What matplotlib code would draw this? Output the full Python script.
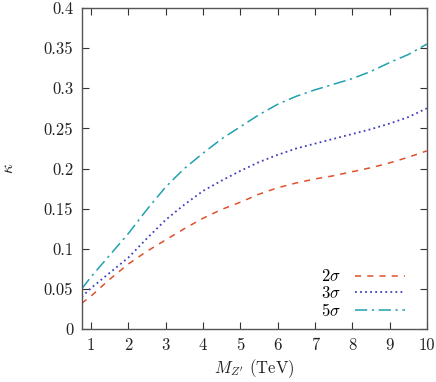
import matplotlib
matplotlib.use("Agg")
import matplotlib.pyplot as plt
import numpy as np

plt.rcParams['font.family'] = 'serif'
plt.rcParams['font.serif'] = ['cmr10', 'DejaVu Serif']
plt.rcParams['mathtext.fontset'] = 'cm'
plt.rcParams['axes.formatter.use_mathtext'] = True

mass = [0.75, 1, 1.5, 2, 2.5, 3, 3.5, 4, 4.5, 5, 5.5, 6, 6.5, 7, 7.5, 8, 8.5, 9, 9.5, 10]
k2 = [0.032, 0.041, 0.062, 0.081, 0.097, 0.111, 0.125, 0.138, 0.149, 0.158, 0.168, 0.176, 0.182, 0.187, 0.191, 0.196, 0.201, 0.207, 0.214, 0.222]
k3 = [0.040, 0.051, 0.070, 0.089, 0.113, 0.136, 0.155, 0.172, 0.185, 0.197, 0.208, 0.217, 0.225, 0.231, 0.237, 0.243, 0.249, 0.256, 0.264, 0.275]
k5 = [0.050, 0.065, 0.092, 0.119, 0.149, 0.177, 0.200, 0.219, 0.237, 0.252, 0.267, 0.280, 0.290, 0.298, 0.305, 0.312, 0.321, 0.332, 0.342, 0.355]

xticks = [1, 2, 3, 4, 5, 6, 7, 8, 9, 10]
yticks = [0, 0.05, 0.1, 0.15, 0.2, 0.25, 0.3, 0.35, 0.4]
ytick_labels = ['0', '0.05', '0.1', '0.15', '0.2', '0.25', '0.3', '0.35', '0.4']

fig = plt.figure(figsize=(4.36, 3.82), dpi=100)
ax = fig.add_axes([0.1874, 0.1387, 0.7916, 0.8403])

ax.plot(mass, k2, color='#e0502a', lw=1.1, linestyle=(0, (4, 4)), label=r'$2\sigma$')
ax.plot(mass, k3, color='#4040c0', lw=1.3, linestyle=(0, (1, 1.8)), label=r'$3\sigma$')
ax.plot(mass, k5, color='#20a0b0', lw=1.1, linestyle=(0, (8, 3, 1.5, 3)), label=r'$5\sigma$')

ax.set_xlim(0.75, 10)
ax.set_ylim(0, 0.4)
ax.set_xticks(xticks)
ax.set_xticklabels([str(t) for t in xticks])
ax.set_yticks(yticks)
ax.set_yticklabels(ytick_labels)
ax.tick_params(direction='in', top=True, right=True, labelsize=12, length=5, colors='#333333', labelcolor='#222222', pad=6)
for s in ax.spines.values():
    s.set_color('#555555')
    s.set_linewidth(1.0)

ax.set_xlabel(r"$M_{Z'}$ (TeV)", fontsize=12, color='#222222', labelpad=3)
ax.set_ylabel(r'$\kappa$', fontsize=12, rotation=90, color='#222222', labelpad=20)

leg = ax.legend(loc='lower right', frameon=False, markerfirst=False, fontsize=12,
                handlelength=3.0, borderaxespad=0.0, labelspacing=0.05,
                bbox_to_anchor=(0.955, 0.01))

fig.savefig('out.png', dpi=100)
